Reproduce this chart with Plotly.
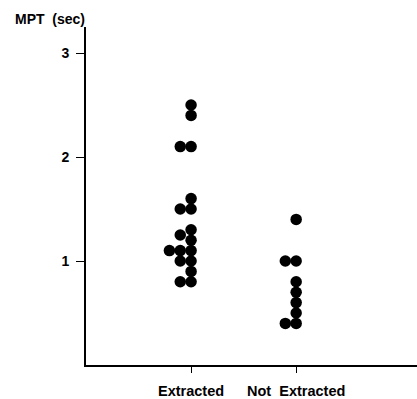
import plotly.graph_objects as go

categories = ["Extracted", "Not Extracted"]
category_pos = [1, 2]

extracted_values = [2.5, 2.4, 2.1, 2.1, 1.6, 1.5, 1.5, 1.3, 1.25, 1.2, 1.1, 1.1, 1.1, 1.0, 1.0, 0.9, 0.8, 0.8]
extracted_cols = [0, 0, -1, 0, 0, -1, 0, 0, -1, 0, -2, -1, 0, -1, 0, 0, -1, 0]

not_extracted_values = [1.4, 1.0, 1.0, 0.8, 0.7, 0.6, 0.5, 0.4, 0.4]
not_extracted_cols = [0, -1, 0, 0, 0, 0, 0, -1, 0]

y_ticks = [1, 2, 3]
y_title = "MPT\u00a0\u00a0(sec)"

col_step = 0.103  # horizontal spacing between stacked dots (axis units)

fig = go.Figure()
for pos, vals, cols in [(category_pos[0], extracted_values, extracted_cols),
                        (category_pos[1], not_extracted_values, not_extracted_cols)]:
    fig.add_trace(go.Scatter(
        x=[pos + c * col_step for c in cols],
        y=vals,
        mode="markers",
        marker=dict(color="black", size=11.5, line=dict(width=0)),
        showlegend=False,
        cliponaxis=False,
    ))

font_family = "Liberation Sans, Arial, sans-serif"

fig.update_layout(
    width=417, height=399,
    margin=dict(l=86, r=0, t=27, b=32),
    paper_bgcolor="white", plot_bgcolor="white",
    font=dict(family=font_family, color="black"),
    xaxis=dict(
        range=[0, 3.15], tickvals=category_pos,
        ticktext=["<b>" + categories[0] + "</b>", "<b>" + categories[1].replace(" ", "\u00a0 ") + "</b>"],
        showline=True, linecolor="black", linewidth=1.6, ticks="outside", ticklen=6,
        tickwidth=1.4, tickcolor="black", showgrid=False, zeroline=False,
        tickfont=dict(size=14.5), ticklabelstandoff=6,
    ),
    yaxis=dict(
        range=[0, 3.25], tickvals=y_ticks, ticktext=[f"<b>{v}</b>" for v in y_ticks],
        showline=True, linecolor="black", linewidth=1.6, ticks="outside", ticklen=8,
        tickwidth=1.4, tickcolor="black", showgrid=False, zeroline=False,
        tickfont=dict(size=14), ticklabelstandoff=4,
    ),
    annotations=[dict(
        text=f"<b>{y_title}</b>", xref="paper", yref="paper",
        x=(13 - 86) / 331, y=1 + 8 / 340, xanchor="left", yanchor="middle",
        showarrow=False, font=dict(size=14),
    )],
)

fig.write_html("out.html")
